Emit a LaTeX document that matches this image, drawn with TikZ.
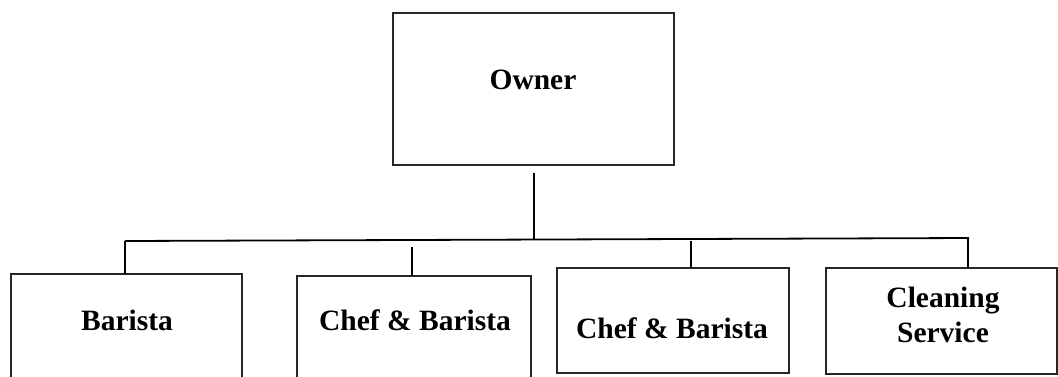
\documentclass[tikz,border=0pt]{standalone}
\usepackage{fontspec}
\setmainfont{Liberation Serif}
\begin{document}
\begin{tikzpicture}[x=1pt,y=-1pt,
  box/.style={draw=black!85,line width=1.2pt,rectangle,inner sep=0pt,outer sep=0pt},
  lbl/.style={anchor=base,inner sep=0pt,font=\fontsize{29.5}{34}\selectfont\bfseries,align=center},
  conn/.style={draw=black,line width=1.8pt}]
\clip (0,0) rectangle (1058,376);
\fill[white] (0,0) rectangle (1058,376);
% boxes
\node[box,minimum width=281pt,minimum height=152pt] (owner) at (533.5,89) {};
\node[box,minimum width=231pt,minimum height=106pt] (barista) at (126.5,327) {};
\node[box,minimum width=234pt,minimum height=104pt] (chefA) at (414,328) {};
\node[box,minimum width=232pt,minimum height=105pt] (chefB) at (673,320.5) {};
\node[box,minimum width=231pt,minimum height=106pt] (clean) at (941.5,321) {};
% labels
\node[lbl] (ownerT) at (533,89) {Owner};
\node[lbl] (baristaT) at (127,330) {Barista};
\node[lbl] (chefAT) at (415,330) {Chef \& Barista};
\node[lbl] (chefBT) at (672,338) {Chef \& Barista};
\node[lbl] (cleanT1) at (943,307) {Cleaning};
\node[lbl] (cleanT2) at (943,342) {Service};
% connectors
\coordinate (ownBot) at (534,173);
\coordinate (ownJoin) at (534,239.5);
\coordinate (busL) at (125,241);
\coordinate (busR) at (969,238);
\coordinate (chefATop) at (412,247);
\coordinate (chefBTop) at (691,240.5);
\coordinate (cleanTop) at (968,238);
\draw[conn] (ownBot) -- (ownJoin);
\draw[conn] (busL) -- (busR);
\draw[conn] (busL) -- (barista.north -| busL);
\draw[conn] (chefATop) -- (chefA.north -| chefATop);
\draw[conn] (chefBTop) -- (chefB.north -| chefBTop);
\draw[conn] (cleanTop) -- (clean.north -| cleanTop);
\end{tikzpicture}
\end{document}
